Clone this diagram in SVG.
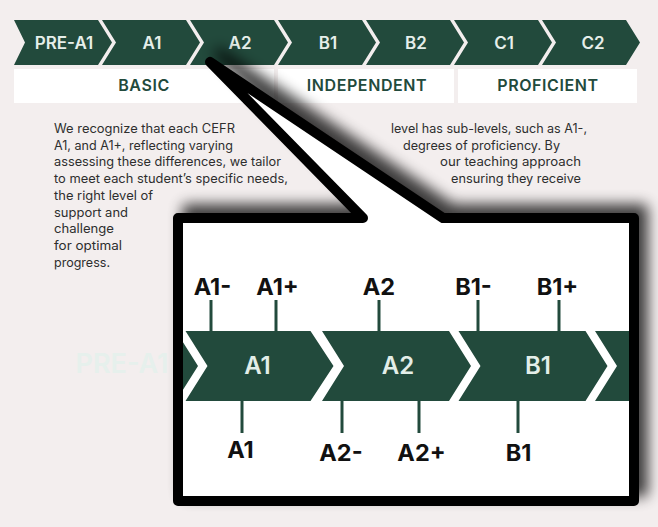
<svg xmlns="http://www.w3.org/2000/svg" width="658" height="527" viewBox="0 0 658 527">
<style>
.chev{fill:#224A3C}
.box{fill:#FFFFFF}
.tlab{font-family:Inter,"Noto Sans",sans-serif;font-weight:600;font-size:17px;fill:#E6EFEA;text-anchor:middle}
.blab{font-family:Inter,"Noto Sans",sans-serif;font-weight:600;font-size:16px;fill:#224A3C;text-anchor:middle;letter-spacing:0.6px}
.para{font-family:Inter,"Noto Sans",sans-serif;font-weight:400;font-size:12.5px;fill:#2E2E2E}
.ilab{font-family:Inter,"Noto Sans",sans-serif;font-weight:600;font-size:24px;fill:#E3EEE8;text-anchor:middle}
.klab{font-family:Inter,"Noto Sans",sans-serif;font-weight:700;font-size:23.5px;fill:#111111;text-anchor:middle}
.tick{stroke:#224A3C;stroke-width:3;fill:none}
</style>
<defs>
<filter id="sh" filterUnits="userSpaceOnUse" x="150" y="30" width="540" height="500">
<feGaussianBlur in="SourceAlpha" stdDeviation="7"/>
<feOffset dx="9" dy="-9" result="b"/>
<feComponentTransfer><feFuncA type="linear" slope="0.75"/></feComponentTransfer>
</filter>
<clipPath id="inner"><rect x="183" y="223" width="446" height="273"/></clipPath>
</defs>
<rect width="658" height="527" fill="#F3EEEE"/>

<g id="top-levels">
<g id="lvl-pre-a1"><polygon class="chev" points="14,20 98,20 112,42.5 98,65 14,65 25,42.5"/><text class="tlab" x="64" y="49">PRE-A1</text></g>
<g id="lvl-a1"><polygon class="chev" points="102,20 186,20 200,42.5 186,65 102,65 116,42.5"/><text class="tlab" x="152" y="49">A1</text></g>
<g id="lvl-a2"><polygon class="chev" points="190,20 274,20 288,42.5 274,65 190,65 204,42.5"/><text class="tlab" x="240" y="49">A2</text></g>
<g id="lvl-b1"><polygon class="chev" points="278,20 362,20 376,42.5 362,65 278,65 292,42.5"/><text class="tlab" x="328" y="49">B1</text></g>
<g id="lvl-b2"><polygon class="chev" points="366,20 450,20 464,42.5 450,65 366,65 380,42.5"/><text class="tlab" x="416" y="49">B2</text></g>
<g id="lvl-c1"><polygon class="chev" points="454,20 538,20 552,42.5 538,65 454,65 468,42.5"/><text class="tlab" x="504" y="49">C1</text></g>
<g id="lvl-c2"><polygon class="chev" points="542,20 626,20 640,42.5 626,65 542,65 556,42.5"/><text class="tlab" x="593" y="49">C2</text></g>
</g>

<g id="bands">
<g id="band-basic"><rect class="box" x="14" y="69" width="260" height="34"/><text class="blab" x="144" y="91">BASIC</text></g>
<g id="band-independent"><rect class="box" x="278" y="69" width="176" height="34"/><text class="blab" x="367" y="91">INDEPENDENT</text></g>
<g id="band-proficient"><rect class="box" x="458" y="69" width="179" height="34"/><text class="blab" x="548" y="91">PROFICIENT</text></g>
</g>

<g id="paragraph">
<text class="para" x="54" y="133" textLength="181" lengthAdjust="spacingAndGlyphs">We recognize that each CEFR</text>
<text class="para" x="54" y="149.7" textLength="179" lengthAdjust="spacingAndGlyphs">A1, and A1+, reflecting varying</text>
<text class="para" x="54" y="166.4" textLength="227" lengthAdjust="spacingAndGlyphs">assessing these differences, we tailor</text>
<text class="para" x="54" y="183.1" textLength="234" lengthAdjust="spacingAndGlyphs">to meet each student’s specific needs,</text>
<text class="para" x="54" y="199.8" textLength="99" lengthAdjust="spacingAndGlyphs">the right level of</text>
<text class="para" x="54" y="216.5" textLength="74" lengthAdjust="spacingAndGlyphs">support and</text>
<text class="para" x="54" y="233.2" textLength="60" lengthAdjust="spacingAndGlyphs">challenge</text>
<text class="para" x="54" y="249.9" textLength="68" lengthAdjust="spacingAndGlyphs">for optimal</text>
<text class="para" x="54" y="266.6" textLength="56" lengthAdjust="spacingAndGlyphs">progress.</text>
<text class="para" x="391" y="133" textLength="196" lengthAdjust="spacingAndGlyphs">level has sub-levels, such as A1-,</text>
<text class="para" x="403" y="149.7" textLength="157" lengthAdjust="spacingAndGlyphs">degrees of proficiency. By</text>
<text class="para" x="440" y="166.4" textLength="141" lengthAdjust="spacingAndGlyphs">our teaching approach</text>
<text class="para" x="451" y="183.1" textLength="130" lengthAdjust="spacingAndGlyphs">ensuring they receive</text>
</g>

<text id="faded-pre-a1" x="122" y="373" font-family="Inter,'Noto Sans',sans-serif" font-weight="600" font-size="27" fill="#E6F0EC" text-anchor="middle">PRE-A1</text>

<g id="callout">
<path d="M363,218 L210,62 L443,218 L634,218 L634,501 L178,501 L178,218 Z" fill="#000" stroke="#000" stroke-width="10" stroke-linejoin="round" filter="url(#sh)"/>
<path d="M363,218 L210,62 L443,218 L634,218 L634,501 L178,501 L178,218 Z" fill="#FFFFFF"/>
<g clip-path="url(#inner)">
<g id="sub-pre-a1"><polygon class="chev" points="49,331 176,331 198,366 176,401 49,401 71,366"/></g>
<g id="sub-a1"><polygon class="chev" points="185.5,331 310.5,331 333.5,366 310.5,401 185.5,401 207.5,366"/><text class="ilab" x="257.5" y="374">A1</text></g>
<g id="sub-a2"><polygon class="chev" points="322,331 449,331 471,366 449,401 322,401 344,366"/><text class="ilab" x="398" y="374">A2</text></g>
<g id="sub-b1"><polygon class="chev" points="458.5,331 585.5,331 607.5,366 585.5,401 458.5,401 480.5,366"/><text class="ilab" x="538" y="374">B1</text></g>
<g id="sub-b2"><polygon class="chev" points="595,331 722,331 744,366 722,401 595,401 617,366"/></g>
</g>
<g id="ticks">
<line class="tick" x1="211" y1="300" x2="211" y2="331"/>
<line class="tick" x1="276" y1="300" x2="276" y2="331"/>
<line class="tick" x1="379" y1="300" x2="379" y2="331"/>
<line class="tick" x1="478" y1="300" x2="478" y2="331"/>
<line class="tick" x1="559" y1="300" x2="559" y2="331"/>
<line class="tick" x1="242" y1="401" x2="242" y2="433"/>
<line class="tick" x1="342" y1="401" x2="342" y2="433"/>
<line class="tick" x1="419" y1="401" x2="419" y2="433"/>
<line class="tick" x1="518" y1="401" x2="518" y2="433"/>
</g>
<g id="sub-labels">
<text class="klab" x="212.5" y="295">A1-</text>
<text class="klab" x="277.5" y="295">A1+</text>
<text class="klab" x="379" y="295">A2</text>
<text class="klab" x="473.5" y="295">B1-</text>
<text class="klab" x="557.5" y="295">B1+</text>
<text class="klab" x="240.5" y="458">A1</text>
<text class="klab" x="341" y="461">A2-</text>
<text class="klab" x="421.5" y="461">A2+</text>
<text class="klab" x="518.5" y="461">B1</text>
</g>
<path d="M363,218 L210,62 L443,218 L634,218 L634,501 L178,501 L178,218 Z" fill="none" stroke="#000" stroke-width="10" stroke-linejoin="round"/>
</g>
</svg>
